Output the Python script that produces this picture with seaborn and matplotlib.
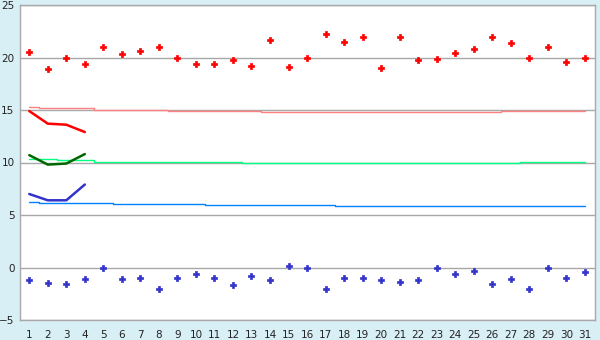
import matplotlib
matplotlib.use('Agg')
import matplotlib.pyplot as plt
import seaborn as sns
import pandas as pd

# ---- data ----
days = list(range(1, 32))
hi_pts = [20.5, 18.9, 20.0, 19.4, 21.0, 20.3, 20.6, 21.0, 20.0, 19.4,
          19.4, 19.8, 19.2, 21.7, 19.1, 20.0, 22.2, 21.5, 22.0, 19.0,
          22.0, 19.8, 19.9, 20.4, 20.8, 22.0, 21.4, 20.0, 21.0, 19.6, 20.0]
lo_pts = [-1.2, -1.5, -1.6, -1.1, 0.0, -1.1, -1.0, -2.0, -1.0, -0.6,
          -1.0, -1.7, -0.8, -1.2, 0.1, 0.0, -2.0, -1.0, -1.0, -1.2,
          -1.4, -1.2, 0.0, -0.6, -0.3, -1.6, -1.1, -2.0, 0.0, -1.0, -0.4]

obs_days = [1, 2, 3, 4]
red_obs = [14.9, 13.7, 13.6, 12.9]
green_obs = [10.7, 9.8, 9.9, 10.8]
blue_obs = [7.0, 6.4, 6.4, 7.9]

pink_norm = [15.27, 15.17, 15.17, 15.17, 15.0, 15.0, 15.0, 15.0, 14.92, 14.92,
             14.92, 14.92, 14.92, 14.85, 14.85, 14.85, 14.85, 14.85, 14.85, 14.85,
             14.85, 14.85, 14.85, 14.85, 14.85, 14.85, 14.88, 14.88, 14.88, 14.88, 14.88]
green_norm = [10.3, 10.3, 10.2, 10.2, 10.08, 10.08, 10.08, 10.08, 10.08, 10.08,
              10.08, 10.08, 9.97, 9.97, 9.97, 9.97, 9.97, 9.97, 9.97, 9.97,
              9.97, 9.97, 9.97, 9.97, 9.97, 9.97, 9.97, 10.05, 10.05, 10.05, 10.05]
blue_norm = [6.2, 6.11, 6.11, 6.11, 6.11, 6.02, 6.02, 6.02, 6.02, 6.02,
             5.92, 5.92, 5.92, 5.92, 5.92, 5.92, 5.92, 5.83, 5.83, 5.83,
             5.83, 5.83, 5.83, 5.83, 5.83, 5.83, 5.83, 5.83, 5.83, 5.83, 5.83]

yticks = [-5, 0, 5, 10, 15, 20, 25]

sns.set_style('white')
plt.rcParams['font.family'] = ['DejaVu Sans']

bg = '#d9eff6'
grey = '#a8a8a8'

fig = plt.figure(figsize=(6, 3.4), dpi=100, facecolor=bg)
ax = fig.add_axes([20/600, 20/340, 575/600, 315/340])
ax.set_facecolor('white')

df = pd.DataFrame({'day': days, 'hi': hi_pts, 'lo': lo_pts,
                   'pink': pink_norm, 'green': green_norm, 'blue': blue_norm})
obs = pd.DataFrame({'day': obs_days, 'r': red_obs, 'g': green_obs, 'b': blue_obs})

# normals as steps
for col, c in [('pink', '#ff8080'), ('green', '#00ff80'), ('blue', '#0080ff')]:
    sns.lineplot(data=df, x='day', y=col, color=c, lw=1.0, drawstyle='steps-mid', ax=ax, zorder=2)

# observed lines
for col, c in [('r', '#ff0000'), ('g', '#006600'), ('b', '#3333cc')]:
    sns.lineplot(data=obs, x='day', y=col, color=c, lw=1.8, ax=ax, zorder=3)

sns.scatterplot(data=df, x='day', y='hi', color='#ff0000', marker='P', s=20,
                edgecolor='#ff0000', linewidth=0.5, ax=ax, zorder=4)
sns.scatterplot(data=df, x='day', y='lo', color='#3333cc', marker='P', s=20,
                edgecolor='#3333cc', linewidth=0.5, ax=ax, zorder=4)

ax.set_xlim(0.5, 31.55)
ax.set_ylim(-5, 25)
ax.set_xticks(days)
ax.set_yticks(yticks)
ax.set_xlabel('')
ax.set_ylabel('')
ax.yaxis.grid(True, color=grey, lw=1.0, zorder=1)
ax.set_axisbelow(True)
for s in ax.spines.values():
    s.set_color(grey)
    s.set_linewidth(1.0)
ax.tick_params(axis='x', direction='out', length=5, width=1, color='#555555',
               labelsize=7.5, labelcolor='#222222', pad=2)
ax.tick_params(axis='y', direction='out', length=3, width=1, color='#555555',
               labelsize=7.5, labelcolor='#222222', pad=1)

fig.savefig('out.png', dpi=100, facecolor=bg)
